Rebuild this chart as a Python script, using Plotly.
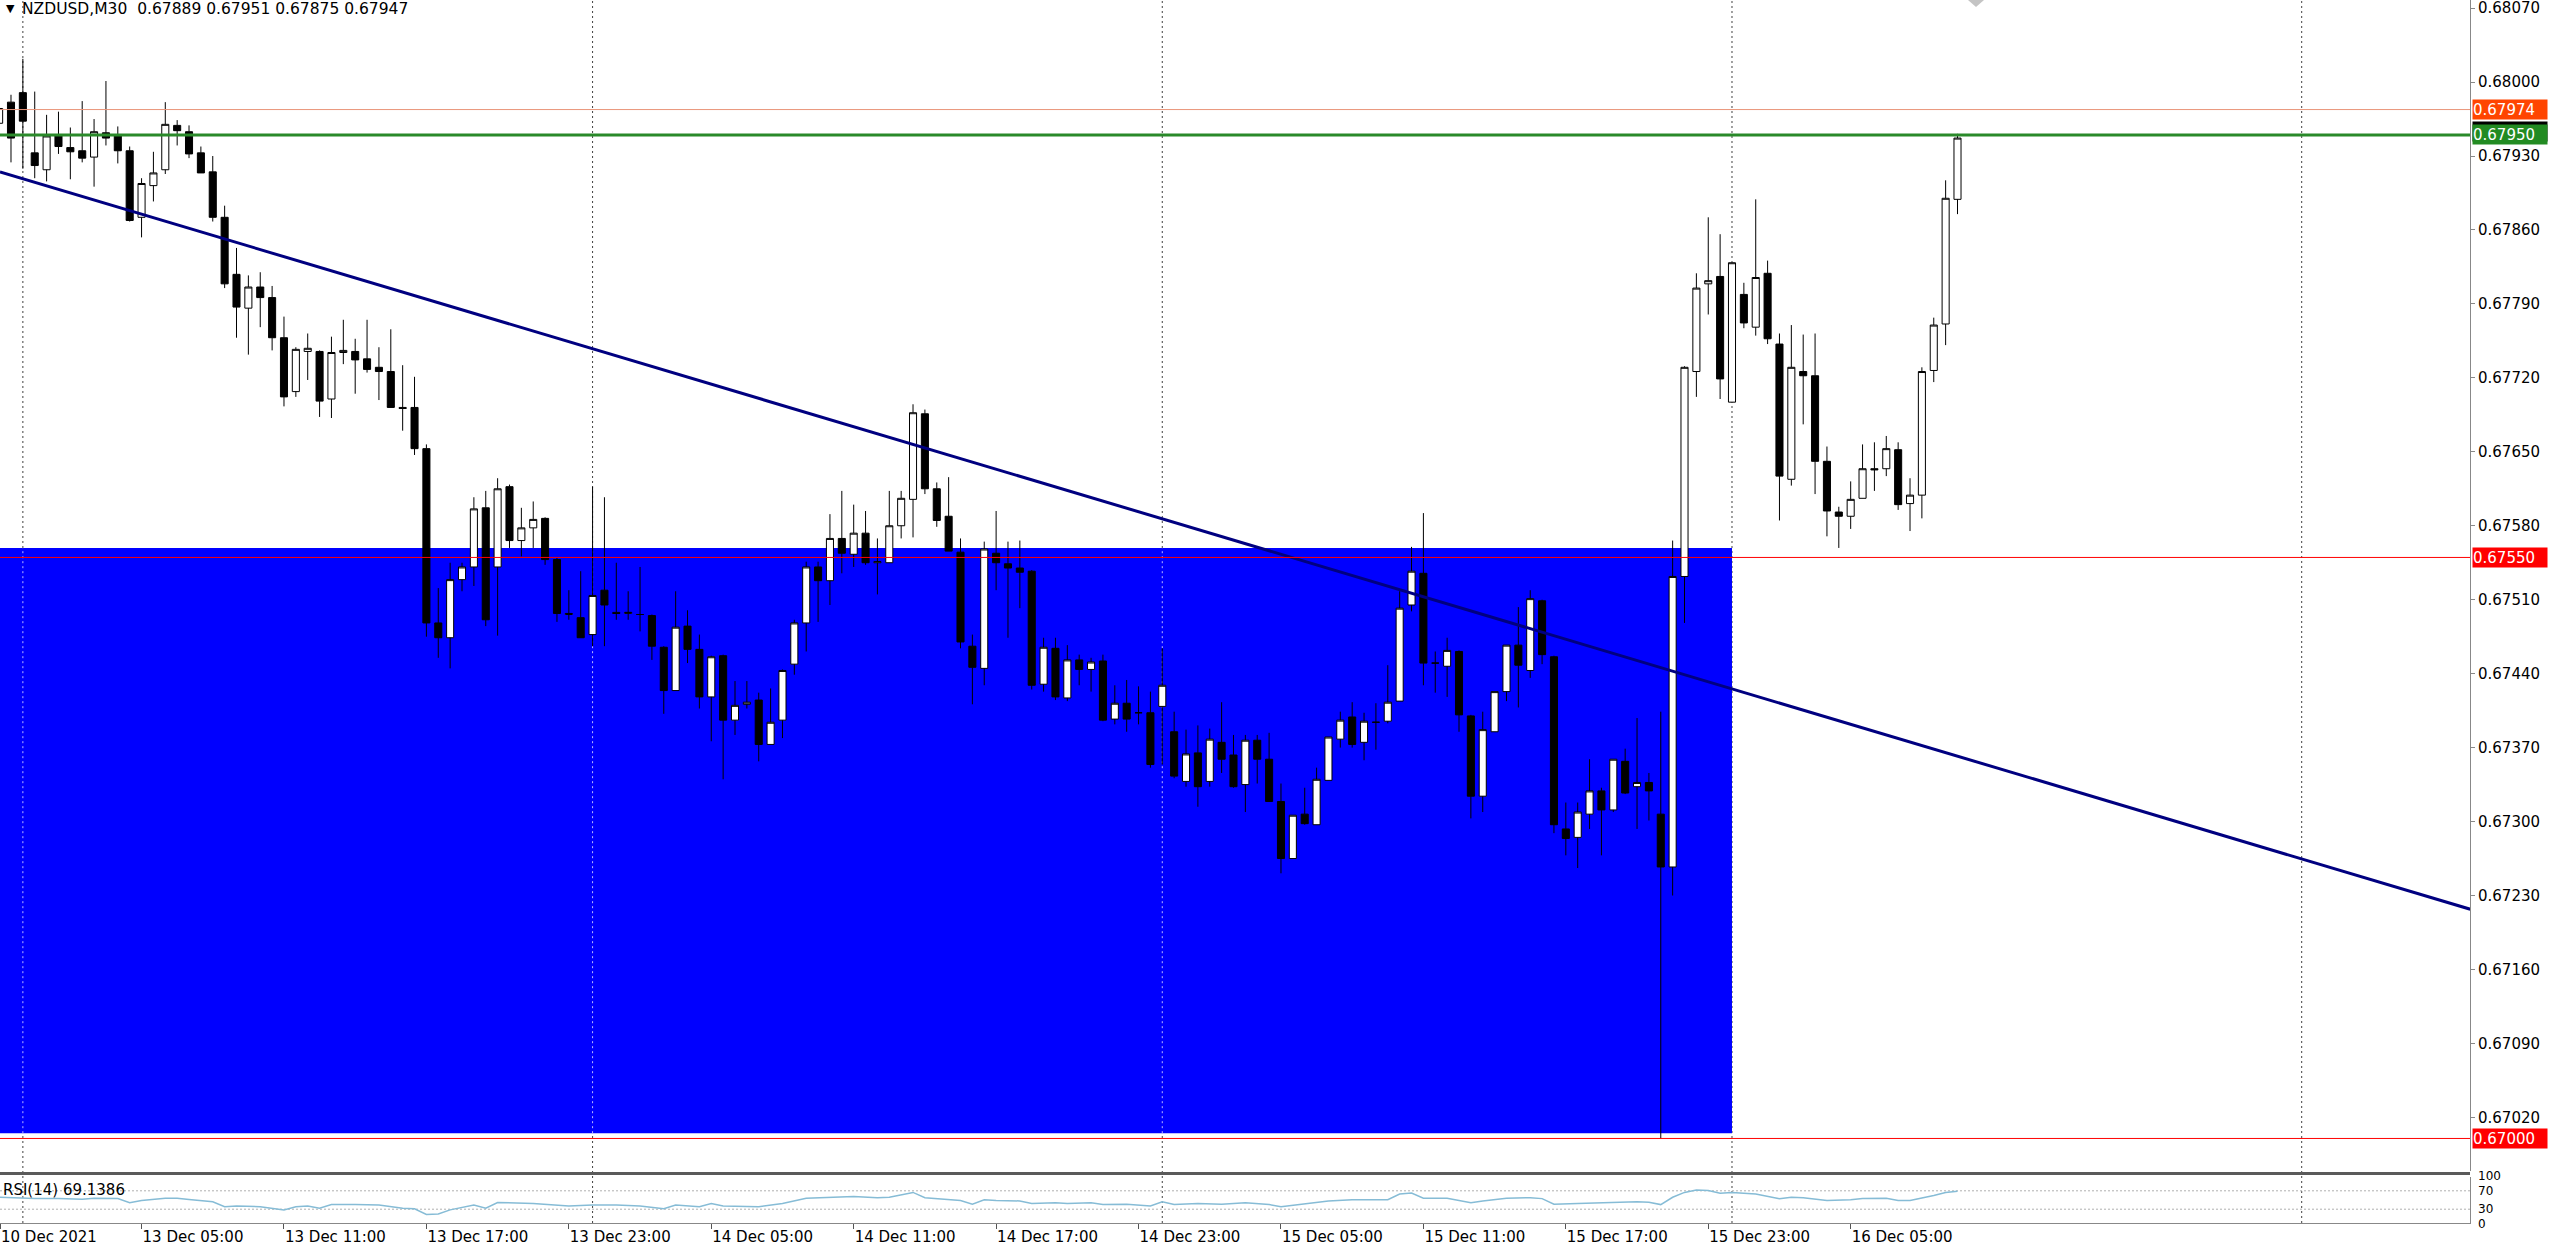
import plotly.graph_objects as go
import pandas as pd

# ---------------- data ----------------
bar_times = ["2021-12-10 23:00", "2021-12-10 23:30"] + [
    t.strftime("%Y-%m-%d %H:%M") for t in pd.date_range("2021-12-13 00:00", periods=164, freq="30min")]
bar_pos = list(range(-2, 164))

opens = [0.67961, 0.67981, 0.67990, 0.67933, 0.67917, 0.67949, 0.67938, 0.67935, 0.67929, 0.67952,
         0.67949, 0.67935, 0.67872, 0.67902, 0.67917, 0.67959, 0.67953, 0.67933, 0.67915, 0.67872,
         0.67818, 0.67786, 0.67806, 0.67796, 0.67758, 0.67707, 0.67745, 0.67745, 0.67700, 0.67744,
         0.67745, 0.67738, 0.67730, 0.67726, 0.67692, 0.67692, 0.67653, 0.67488, 0.67474, 0.67529,
         0.67541, 0.67597, 0.67541, 0.67617, 0.67566, 0.67578, 0.67587, 0.67548, 0.67496, 0.67493,
         0.67477, 0.67519, 0.67498, 0.67497, 0.67496, 0.67495, 0.67465, 0.67424, 0.67485, 0.67463,
         0.67418, 0.67457, 0.67396, 0.67411, 0.67415, 0.67373, 0.67396, 0.67449, 0.67488, 0.67541,
         0.67528, 0.67568, 0.67553, 0.67573, 0.67545, 0.67545, 0.67580, 0.67605, 0.67686, 0.67615,
         0.67589, 0.67555, 0.67466, 0.67445, 0.67554, 0.67544, 0.67540, 0.67537, 0.67430, 0.67464,
         0.67417, 0.67453, 0.67444, 0.67452, 0.67397, 0.67412, 0.67403, 0.67403, 0.67409, 0.67385,
         0.67338, 0.67365, 0.67338, 0.67375, 0.67363, 0.67335, 0.67377, 0.67359, 0.67319, 0.67265,
         0.67307, 0.67297, 0.67339, 0.67378, 0.67399, 0.67375, 0.67394, 0.67395, 0.67414, 0.67505,
         0.67535, 0.67450, 0.67447, 0.67461, 0.67400, 0.67324, 0.67385, 0.67423, 0.67467, 0.67443,
         0.67509, 0.67456, 0.67293, 0.67285, 0.67307, 0.67329, 0.67311, 0.67357, 0.67333, 0.67337,
         0.67307, 0.67257, 0.67532, 0.67726, 0.67809, 0.67816, 0.67697, 0.67799, 0.67768, 0.67819,
         0.67752, 0.67624, 0.67726, 0.67722, 0.67641, 0.67593, 0.67589, 0.67606, 0.67634, 0.67634,
         0.67652, 0.67601, 0.67609, 0.67727, 0.67771, 0.67889]
highs = [0.67978, 0.67988, 0.68022, 0.67991, 0.67969, 0.67972, 0.67957, 0.67982, 0.67965, 0.68001,
         0.67958, 0.67939, 0.67909, 0.67934, 0.67981, 0.67964, 0.67959, 0.67939, 0.67930, 0.67883,
         0.67843, 0.67817, 0.67820, 0.67807, 0.67778, 0.67749, 0.67762, 0.67746, 0.67759, 0.67775,
         0.67757, 0.67775, 0.67749, 0.67766, 0.67732, 0.67721, 0.67657, 0.67521, 0.67545, 0.67545,
         0.67607, 0.67613, 0.67625, 0.67619, 0.67597, 0.67603, 0.67588, 0.67550, 0.67519, 0.67537,
         0.67617, 0.67607, 0.67545, 0.67518, 0.67541, 0.67496, 0.67466, 0.67518, 0.67500, 0.67477,
         0.67457, 0.67458, 0.67433, 0.67433, 0.67422, 0.67426, 0.67444, 0.67491, 0.67546, 0.67546,
         0.67591, 0.67613, 0.67600, 0.67594, 0.67568, 0.67613, 0.67613, 0.67695, 0.67690, 0.67621,
         0.67626, 0.67568, 0.67477, 0.67565, 0.67594, 0.67565, 0.67566, 0.67538, 0.67474, 0.67474,
         0.67467, 0.67458, 0.67455, 0.67458, 0.67429, 0.67434, 0.67428, 0.67423, 0.67464, 0.67404,
         0.67387, 0.67391, 0.67388, 0.67413, 0.67382, 0.67382, 0.67382, 0.67384, 0.67336, 0.67306,
         0.67332, 0.67351, 0.67380, 0.67404, 0.67413, 0.67403, 0.67412, 0.67448, 0.67518, 0.67560,
         0.67592, 0.67461, 0.67474, 0.67462, 0.67401, 0.67404, 0.67423, 0.67467, 0.67503, 0.67519,
         0.67510, 0.67457, 0.67318, 0.67318, 0.67359, 0.67332, 0.67359, 0.67369, 0.67398, 0.67346,
         0.67404, 0.67566, 0.67731, 0.67819, 0.67872, 0.67856, 0.67829, 0.67810, 0.67889, 0.67831,
         0.67762, 0.67770, 0.67761, 0.67762, 0.67655, 0.67598, 0.67622, 0.67657, 0.67659, 0.67665,
         0.67659, 0.67625, 0.67730, 0.67777, 0.67907, 0.67951]
lows = [0.67955, 0.67924, 0.67918, 0.67909, 0.67906, 0.67932, 0.67908, 0.67924, 0.67901, 0.67940,
        0.67923, 0.67868, 0.67853, 0.67887, 0.67913, 0.67940, 0.67928, 0.67914, 0.67868, 0.67805,
        0.67758, 0.67742, 0.67768, 0.67746, 0.67693, 0.67702, 0.67718, 0.67683, 0.67682, 0.67733,
        0.67705, 0.67725, 0.67699, 0.67692, 0.67670, 0.67647, 0.67475, 0.67455, 0.67445, 0.67518,
        0.67523, 0.67485, 0.67476, 0.67559, 0.67551, 0.67559, 0.67543, 0.67489, 0.67491, 0.67474,
        0.67466, 0.67466, 0.67491, 0.67491, 0.67480, 0.67453, 0.67402, 0.67424, 0.67450, 0.67407,
        0.67376, 0.67340, 0.67382, 0.67407, 0.67357, 0.67373, 0.67379, 0.67439, 0.67461, 0.67489,
        0.67505, 0.67535, 0.67541, 0.67543, 0.67515, 0.67545, 0.67568, 0.67569, 0.67610, 0.67579,
        0.67556, 0.67464, 0.67411, 0.67429, 0.67519, 0.67474, 0.67502, 0.67425, 0.67423, 0.67415,
        0.67414, 0.67429, 0.67423, 0.67395, 0.67392, 0.67385, 0.67392, 0.67351, 0.67354, 0.67341,
        0.67333, 0.67314, 0.67333, 0.67346, 0.67332, 0.67309, 0.67336, 0.67319, 0.67251, 0.67265,
        0.67297, 0.67297, 0.67339, 0.67370, 0.67370, 0.67358, 0.67368, 0.67393, 0.67414, 0.67499,
        0.67429, 0.67422, 0.67418, 0.67385, 0.67303, 0.67309, 0.67385, 0.67414, 0.67408, 0.67436,
        0.67449, 0.67289, 0.67268, 0.67256, 0.67293, 0.67268, 0.67309, 0.67326, 0.67293, 0.67301,
        0.67000, 0.67230, 0.67488, 0.67702, 0.67780, 0.67700, 0.67697, 0.67767, 0.67760, 0.67752,
        0.67585, 0.67618, 0.67676, 0.67610, 0.67570, 0.67559, 0.67577, 0.67606, 0.67613, 0.67627,
        0.67595, 0.67575, 0.67587, 0.67716, 0.67751, 0.67875]
closes = [0.67975, 0.67947, 0.67963, 0.67921, 0.67949, 0.67939, 0.67934, 0.67928, 0.67953, 0.67947,
          0.67935, 0.67869, 0.67904, 0.67914, 0.67960, 0.67954, 0.67932, 0.67914, 0.67872, 0.67809,
          0.67787, 0.67806, 0.67796, 0.67758, 0.67702, 0.67747, 0.67748, 0.67698, 0.67744, 0.67746,
          0.67737, 0.67728, 0.67726, 0.67692, 0.67691, 0.67653, 0.67488, 0.67474, 0.67529, 0.67541,
          0.67596, 0.67491, 0.67615, 0.67566, 0.67578, 0.67586, 0.67548, 0.67497, 0.67497, 0.67474,
          0.67514, 0.67505, 0.67497, 0.67498, 0.67496, 0.67466, 0.67424, 0.67484, 0.67463, 0.67418,
          0.67456, 0.67396, 0.67410, 0.67413, 0.67373, 0.67394, 0.67443, 0.67488, 0.67541, 0.67528,
          0.67568, 0.67554, 0.67573, 0.67545, 0.67546, 0.67580, 0.67606, 0.67687, 0.67615, 0.67585,
          0.67556, 0.67470, 0.67446, 0.67558, 0.67545, 0.67540, 0.67536, 0.67429, 0.67465, 0.67418,
          0.67453, 0.67444, 0.67451, 0.67396, 0.67412, 0.67397, 0.67403, 0.67354, 0.67429, 0.67343,
          0.67364, 0.67333, 0.67378, 0.67359, 0.67333, 0.67377, 0.67359, 0.67319, 0.67265, 0.67306,
          0.67298, 0.67340, 0.67380, 0.67396, 0.67373, 0.67395, 0.67394, 0.67413, 0.67502, 0.67537,
          0.67450, 0.67450, 0.67462, 0.67401, 0.67324, 0.67387, 0.67423, 0.67467, 0.67448, 0.67511,
          0.67458, 0.67297, 0.67284, 0.67309, 0.67329, 0.67311, 0.67359, 0.67327, 0.67337, 0.67329,
          0.67257, 0.67532, 0.67730, 0.67805, 0.67812, 0.67719, 0.67829, 0.67772, 0.67815, 0.67757,
          0.67627, 0.67730, 0.67722, 0.67641, 0.67594, 0.67589, 0.67605, 0.67634, 0.67633, 0.67653,
          0.67600, 0.67609, 0.67726, 0.67770, 0.67890, 0.67947]

# RSI(14) readings (bar position, value)
rsi_pos = [-2, 0, 1, 3, 5, 6, 8, 9, 10, 12, 13, 14, 16, 17, 18, 20, 22, 23, 24, 25, 26, 28, 30, 32, 33,
           34, 35, 36, 38, 39, 40, 43, 44, 46, 48, 50, 52, 54, 55, 57, 58, 59, 62, 64, 66, 68, 70, 72,
           73, 75, 76, 79, 80, 81, 82, 84, 85, 87, 88, 90, 91, 93, 95, 96, 97, 99, 101, 103, 105, 106,
           108, 109, 110, 112, 115, 116, 117, 118, 120, 122, 123, 125, 127, 128, 129, 131, 133, 134,
           136, 137, 138, 139, 140, 141, 142, 143, 144, 146, 148, 149, 150, 152, 154, 155, 157, 158,
           159, 161, 162, 163]
rsi_vals = [56, 54, 53, 53, 51.5, 54, 53, 44, 49, 54, 54, 51, 46, 35.5, 37, 35.5, 28.5, 35.5, 37, 32,
            40, 40, 39, 32, 31, 18.5, 19.5, 28.5, 39, 32, 44.5, 42.5, 41, 37, 39, 39, 37, 31, 39, 35.5,
            42.5, 37, 35.5, 42.5, 54, 56, 57.5, 55, 56, 66.5, 55, 49, 41, 50.5, 49, 48, 42.5, 44, 42.5,
            44, 40, 41, 37, 46, 40, 42.5, 41, 44, 40, 35.5, 41, 44, 48, 50.5, 50.5, 63, 65, 54, 54, 44,
            48, 54, 55, 53, 41, 42.5, 44, 46, 46, 45, 40, 56, 66.5, 71.5, 70.5, 64.5, 66.5, 63, 53, 56,
            55, 49, 50.5, 53, 54, 49, 49, 60, 66.5, 69.1386]
rsi_levels = [70, 30]
# RSI scale labels: (value the label sits beside, text, pixel shift)
rsi_labels = [(70, "100", 15), (70, "70", 0), (30, "30", 0), (30, "0", -15)]

# trend line (two anchor points: bar position, price)
trend_x = [-1.93, 206.2]
trend_y = [0.67915, 0.67217]

# horizontal levels: price, line colour, label colour, width
hlines = [(0.67974, "#E9967A", "#FF4500", 1),
          (0.67950, "#2A8A2A", "#228B22", 3),
          (0.67550, "#FF0000", "#FF0000", 1),
          (0.67000, "#FF0000", "#FF0000", 1)]

# rectangle zone
zone_x = [-4, 144]
zone_y = [0.67005, 0.67559]

# price axis ticks
price_ticks = [0.67020, 0.67090, 0.67160, 0.67230, 0.67300, 0.67370, 0.67440, 0.67510, 0.67580,
               0.67650, 0.67720, 0.67790, 0.67860, 0.67930, 0.68000, 0.68070]
day_lines = [0, 48, 96, 144, 192]
time_tick_pos = [-1.926, 10, 22, 34, 46, 58, 70, 82, 94, 106, 118, 130, 142, 154]
time_tick_text = ["10 Dec 2021", "13 Dec 05:00", "13 Dec 11:00", "13 Dec 17:00", "13 Dec 23:00",
                  "14 Dec 05:00", "14 Dec 11:00", "14 Dec 17:00", "14 Dec 23:00", "15 Dec 05:00",
                  "15 Dec 11:00", "15 Dec 17:00", "15 Dec 23:00", "16 Dec 05:00"]

title_text = "NZDUSD,M30\u00a0\u00a00.67889 0.67951 0.67875 0.67947"
rsi_text = "RSI(14) 69.1386"

# ---------------- layout geometry ----------------
W, H = 2560, 1248
AX_X = 2470  # price axis line x (px)
xdom = [0, AX_X / W]
main_bottom_px = 1171
rsi_top_px, rsi_bottom_px = 1177, 1223
main_dom = [(H - main_bottom_px) / H, 1]
rsi_dom = [(H - rsi_bottom_px) / H, (H - rsi_top_px) / H]
x_range = [-1.926, 206.18]
y_range = [0.669692, 0.680777]
FONT = "DejaVu Sans"

fig = go.Figure()
fig.add_trace(go.Candlestick(
    x=bar_pos, open=opens, high=highs, low=lows, close=closes, text=bar_times,
    increasing=dict(line=dict(color="black", width=1), fillcolor="white"),
    decreasing=dict(line=dict(color="black", width=1), fillcolor="black"),
    whiskerwidth=0, showlegend=False, xaxis="x", yaxis="y", hoverinfo="text"))
fig.add_trace(go.Scatter(x=trend_x, y=trend_y, mode="lines", line=dict(color="#000080", width=3),
                         showlegend=False, xaxis="x", yaxis="y", hoverinfo="skip"))
fig.add_trace(go.Scatter(x=rsi_pos, y=rsi_vals, mode="lines", line=dict(color="#86BCD6", width=1.5),
                         showlegend=False, xaxis="x2", yaxis="y2", hoverinfo="skip"))

shapes = []
# blue zone
shapes.append(dict(type="rect", xref="x", yref="y", x0=zone_x[0], x1=zone_x[1], y0=zone_y[0], y1=zone_y[1],
                   fillcolor="#0000FF", line=dict(width=0), layer="below"))
# vertical day grid lines
for d in day_lines:
    shapes.append(dict(type="line", xref="x", yref="paper", x0=d, x1=d, y0=rsi_dom[0], y1=1,
                       line=dict(color="#404040", width=1, dash="2px,3px"), layer="below"))
    if zone_x[0] < d < zone_x[1]:
        shapes.append(dict(type="line", xref="x", yref="y", x0=d, x1=d, y0=zone_y[0], y1=zone_y[1],
                           line=dict(color="#B8B8FF", width=1, dash="2px,3px"), layer="below"))
# horizontal levels
for p, lc, bc, lw in hlines:
    shapes.append(dict(type="line", xref="paper", yref="y", x0=0, x1=xdom[1], y0=p, y1=p,
                       line=dict(color=lc, width=lw), layer="above"))
# RSI level lines
for lv in rsi_levels:
    shapes.append(dict(type="line", xref="paper", yref="y2", x0=0, x1=xdom[1], y0=lv, y1=lv,
                       line=dict(color="#B0B0B0", width=1, dash="2px,2px"), layer="below"))
# separator between panes
shapes.append(dict(type="rect", xref="paper", yref="paper", x0=0, x1=xdom[1],
                   y0=(H - 1175) / H, y1=(H - 1172) / H, fillcolor="#5A5A5A", line=dict(width=0)))
# chart shift marker
mx = 1976 / W
shapes.append(dict(type="path", xref="paper", yref="paper",
                   path=f"M {mx-8/W},{1} L {mx+8/W},{1} L {mx},{1-7/H} Z",
                   fillcolor="#C4C4C4", line=dict(width=0)))

annotations = []
for p, lc, bc, lw in hlines:
    if p == 0.67950:
        annotations.append(dict(xref="paper", yref="y", x=2472 / W, y=p, xanchor="left", yanchor="middle",
                                text=" ", bgcolor="black", width=74, height=19, yshift=3, showarrow=False,
                                borderpad=0, font=dict(family=FONT, size=15, color="white")))
    annotations.append(dict(xref="paper", yref="y", x=2472 / W, y=p, xanchor="left", yanchor="middle",
                            text=f"{p:.5f}", bgcolor=bc, width=74, height=19, align="left", showarrow=False,
                            borderpad=0, font=dict(family=FONT, size=15, color="white")))
for lv, txt, sh in rsi_labels:
    annotations.append(dict(xref="paper", yref="y2", x=2476 / W, y=lv, xanchor="left", yanchor="middle",
                            yshift=sh, text=txt, showarrow=False,
                            font=dict(family=FONT, size=12, color="black")))
annotations.append(dict(xref="paper", yref="paper", x=4 / W, y=1 - 9 / H, xanchor="left", yanchor="middle",
                        text="\u25bc", showarrow=False, font=dict(family=FONT, size=11, color="black")))
annotations.append(dict(xref="paper", yref="paper", x=20 / W, y=1 - 9 / H, xanchor="left", yanchor="middle",
                        text=title_text, showarrow=False, font=dict(family=FONT, size=15.5, color="black")))
annotations.append(dict(xref="paper", yref="paper", x=1 / W, y=(H - 1190) / H, xanchor="left", yanchor="middle",
                        text=rsi_text, showarrow=False, font=dict(family=FONT, size=15, color="black")))

fig.update_layout(
    width=W, height=H, margin=dict(l=0, r=0, t=0, b=0),
    paper_bgcolor="white", plot_bgcolor="white", showlegend=False,
    boxgap=0.15,
    xaxis=dict(domain=xdom, range=x_range, anchor="y", showticklabels=False, showgrid=False,
               zeroline=False, showline=False, rangeslider=dict(visible=False), fixedrange=True),
    yaxis=dict(domain=main_dom, range=y_range, anchor="x", side="right", tickvals=price_ticks,
               ticktext=[f"{v:.5f}" for v in price_ticks], ticks="outside", ticklen=4, tickcolor="#888888",
               ticklabeloverflow="allow",
               showline=True, linecolor="#888888", linewidth=1, showgrid=False, zeroline=False,
               tickfont=dict(family=FONT, size=15, color="black"), fixedrange=True),
    xaxis2=dict(domain=xdom, range=x_range, anchor="y2", matches="x", tickvals=time_tick_pos,
                ticktext=time_tick_text, ticks="outside", ticklen=5, tickcolor="#555555",
                ticklabelposition="outside right", ticklabeloverflow="allow",
                showline=True, linecolor="#888888", showgrid=False,
                zeroline=False, tickfont=dict(family=FONT, size=15, color="black"), fixedrange=True),
    yaxis2=dict(domain=rsi_dom, range=[0, 100], anchor="x2", side="right", showticklabels=False,
                ticks="", showline=True, linecolor="#888888", showgrid=False, zeroline=False,
                fixedrange=True),
    shapes=shapes, annotations=annotations,
)

fig.write_html("out.html", config={"displayModeBar": False},
               post_script="document.body.style.margin='0px';document.body.style.overflow='hidden';")
